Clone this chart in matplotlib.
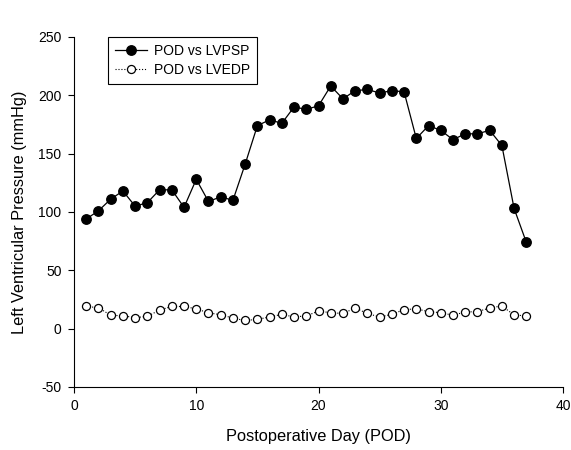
#!/usr/bin/env python3

import numpy as np
import matplotlib
matplotlib.use('Agg')
import matplotlib.pyplot as plt

# postoperative day
pod = np.arange(1, 38)

# left ventricular peak systolic pressure (mmHg)
lvpsp = [94, 101, 111, 118, 105, 108, 119, 119, 104, 128,
         109, 113, 110, 141, 174, 179, 176, 190, 188, 191,
         208, 197, 204, 205, 202, 204, 203, 163, 174, 170,
         162, 167, 167, 170, 157, 103, 74]

# left ventricular end diastolic pressure (mmHg)
lvedp = [19, 18, 11.5, 11, 9.5, 10.5, 16, 19, 19, 17,
         13.5, 12, 9, 7, 8, 10, 12.3, 10, 11, 15,
         13.7, 13, 17.7, 13, 10, 12.3, 16.3, 17, 14.6, 13.7,
         11.5, 14.3, 14.6, 17.7, 19.5, 11.7, 11]

plt.rcParams['font.family'] = ['Liberation Sans', 'DejaVu Sans']
plt.rcParams['axes.unicode_minus'] = False

fig = plt.figure(figsize=(5.71, 4.5), dpi=100)
ax = fig.add_axes([0.1296, 0.14, 0.8564, 0.7778])

ax.plot(pod, lvpsp, color='black', linewidth=0.9, marker='o', markersize=6.8,
        markerfacecolor='black', markeredgecolor='black', label='POD vs LVPSP')
ax.plot(pod, lvedp, color='black', linewidth=0.8, linestyle=':', marker='o',
        markersize=5.8, markerfacecolor='white', markeredgecolor='black',
        markeredgewidth=0.9, label='POD vs LVEDP')

ax.set_xlim(0, 40)
ax.set_ylim(-50, 250)
ax.set_xticks([0, 10, 20, 30, 40])
ax.set_yticks([-50, 0, 50, 100, 150, 200, 250])
ax.spines['top'].set_visible(False)
ax.spines['right'].set_visible(False)
ax.tick_params(direction='out', length=4, width=0.8, labelsize=10, pad=5)
ax.set_xlabel('Postoperative Day (POD)', fontsize=11.8, labelpad=11)
ax.set_ylabel('Left Ventricular Pressure (mmHg)', fontsize=11.8, labelpad=8)

leg = ax.legend(loc='upper left', bbox_to_anchor=(0.07, 1.0), borderaxespad=0,
                fancybox=False, edgecolor='black', framealpha=1, fontsize=10,
                handlelength=2.3, handletextpad=0.5, borderpad=0.5,
                labelspacing=0.35)
leg.get_frame().set_linewidth(0.8)

fig.savefig('out.png', dpi=100)
